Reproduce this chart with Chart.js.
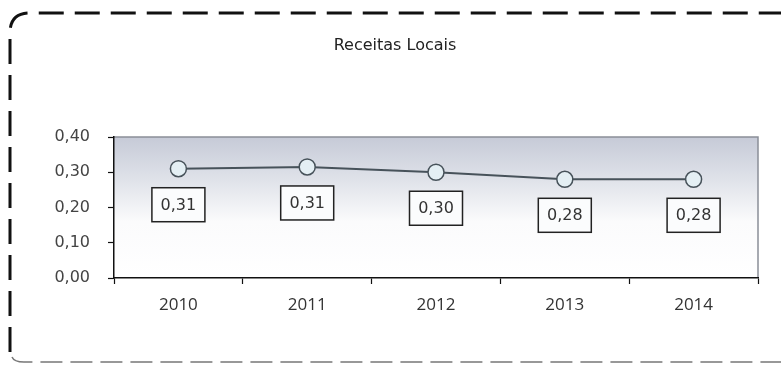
<!DOCTYPE html>
<html>
<head>
<meta charset="utf-8">
<script src="https://cdn.jsdelivr.net/npm/chart.js@4/dist/chart.umd.min.js"></script>
<style>
html,body{margin:0;padding:0;background:#fff;}
#wrap{width:781px;height:365px;position:relative;}
</style>
</head>
<body>
<div id="wrap"><canvas id="c" width="781" height="365"></canvas></div>
<script>
const chartTitle = "Receitas Locais";
const categories = ["2010", "2011", "2012", "2013", "2014"];
const values = [0.31, 0.315, 0.30, 0.28, 0.28];
const valueLabels = ["0,31", "0,31", "0,30", "0,28", "0,28"];
const yTicks = [0, 0.1, 0.2, 0.3, 0.4];
const yTickLabels = ["0,00", "0,10", "0,20", "0,30", "0,40"];

const decor = {
  id: "decor",
  beforeDraw(chart) {
    const ctx = chart.ctx, a = chart.chartArea;
    ctx.save();
    const g = ctx.createLinearGradient(0, a.top, 0, a.bottom);
    g.addColorStop(0, "#c6cad7");
    g.addColorStop(0.3, "#dfe2e9");
    g.addColorStop(0.6, "#fbfbfc");
    g.addColorStop(1, "#ffffff");
    ctx.fillStyle = g;
    ctx.fillRect(a.left, a.top, a.right - a.left, a.bottom - a.top);
    ctx.strokeStyle = "#8a8f98";
    ctx.lineWidth = 1.5;
    ctx.beginPath();
    ctx.moveTo(a.left, a.top);
    ctx.lineTo(a.right, a.top);
    ctx.lineTo(a.right, a.bottom);
    ctx.stroke();
    // dashed frame
    ctx.strokeStyle = "#111";
    ctx.lineWidth = 3;
    ctx.setLineDash([25, 11]);
    ctx.beginPath();
    ctx.moveTo(10, 352);
    ctx.lineTo(10, 33);
    ctx.quadraticCurveTo(10, 13, 30, 13);
    ctx.lineTo(800, 13);
    ctx.stroke();
    ctx.strokeStyle = "#777";
    ctx.lineWidth = 1.5;
    ctx.setLineDash([22, 8]);
    ctx.beginPath();
    ctx.moveTo(12, 357);
    ctx.quadraticCurveTo(14, 362, 24, 362);
    ctx.lineTo(800, 362);
    ctx.stroke();
    ctx.setLineDash([]);
    // title
    ctx.fillStyle = "#222";
    ctx.font = "16px 'DejaVu Sans'";
    ctx.textAlign = "center";
    ctx.textBaseline = "middle";
    ctx.fillText(chartTitle, 395, 46);
    ctx.restore();
  },
  afterDatasetsDraw(chart) {
    const ctx = chart.ctx;
    const meta = chart.getDatasetMeta(0);
    ctx.save();
    ctx.font = "16px 'DejaVu Sans'";
    ctx.textAlign = "center";
    ctx.textBaseline = "middle";
    meta.data.forEach((pt, i) => {
      const cx = pt.x, cy = pt.y + 36;
      const w = 53, h = 34;
      ctx.fillStyle = "#fbfcfd";
      ctx.fillRect(cx - w / 2, cy - h / 2, w, h);
      ctx.strokeStyle = "#222";
      ctx.lineWidth = 1.5;
      ctx.strokeRect(cx - w / 2, cy - h / 2, w, h);
      ctx.fillStyle = "#333";
      ctx.fillText(valueLabels[i], cx, cy + 1);
    });
    ctx.restore();
  }
};

new Chart(document.getElementById("c"), {
  type: "line",
  data: {
    labels: categories,
    datasets: [{
      data: values,
      borderColor: "#47525a",
      borderWidth: 2,
      pointRadius: 8,
      pointHoverRadius: 8,
      pointBorderWidth: 1.5,
      pointBorderColor: "#47525a",
      pointBackgroundColor: "#e4eff4",
      tension: 0
    }]
  },
  options: {
    responsive: false,
    animation: false,
    events: [],
    layout: { padding: { left: 0, top: 137, right: 23, bottom: 0 } },
    plugins: { legend: { display: false }, title: { display: false }, tooltip: { enabled: false } },
    scales: {
      x: {
        offset: true,
        grid: { offset: true, drawOnChartArea: false, drawTicks: true, tickLength: 6, tickColor: "#111", tickWidth: 1.2 },
        border: { color: "#111", width: 1.5 },
        ticks: { color: "#333", font: { family: "'Open Sans'", size: 17 }, padding: 11, maxRotation: 0 },
        afterFit(s) { s.height = 87; }
      },
      y: {
        min: 0, max: 0.4,
        afterBuildTicks(s) { s.ticks = yTicks.map(v => ({ value: v })); },
        grid: { drawOnChartArea: false, drawTicks: true, tickLength: 6, tickColor: "#111", tickWidth: 1.2 },
        border: { color: "#111", width: 1.5 },
        ticks: {
          color: "#444", font: { family: "'DejaVu Sans'", size: 16 }, padding: 18,
          callback(v) { const i = yTicks.findIndex(t => Math.abs(t - v) < 1e-9); return i >= 0 ? yTickLabels[i] : ""; }
        },
        afterFit(s) { s.width = 114; }
      }
    }
  },
  plugins: [decor]
});
</script>
</body>
</html>
